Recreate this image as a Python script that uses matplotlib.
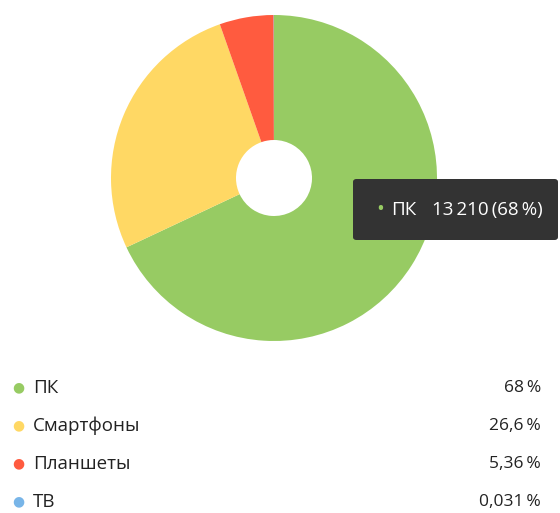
import matplotlib.pyplot as plt
from matplotlib.patches import FancyBboxPatch

labels = ['ПК', 'Смартфоны', 'Планшеты', 'ТВ']
shares = [68.0, 26.6, 5.36, 0.031]
share_labels = ['68\u2009%', '26,6\u2009%', '5,36\u2009%', '0,031\u2009%']
colors = ['#97cb63', '#ffd864', '#ff5b3f', '#78b5e8']
tip_label = 'ПК'
tip_value = '13\u2009210\u2009(68\u2009%)'

plt.rcParams['font.family'] = ['Open Sans', 'DejaVu Sans']

fig = plt.figure(figsize=(5.6, 5.13), dpi=100)

# pie axes: centre ~ (274, 178) px, radius ~163 px
W, H = 560, 513
cx, cy, r = 274, 178, 163
ax = fig.add_axes([(cx - r) / W, (H - cy - r) / H, 2 * r / W, 2 * r / H])
ax.pie(shares, colors=colors, startangle=90, counterclock=False,
       radius=1.0, wedgeprops=dict(width=1 - 38 / 163, linewidth=0))
ax.set_xlim(-1, 1)
ax.set_ylim(-1, 1)
ax.set_aspect('equal')
ax.axis('off')

# tooltip
box = FancyBboxPatch((353 / W, 1 - 240 / H), 205 / W, 61 / H,
                     boxstyle='round,pad=0,rounding_size=0.006',
                     transform=fig.transFigure, facecolor='#333333',
                     edgecolor='none', zorder=5)
fig.patches.append(box)
fig.text(380 / W, 1 - 210 / H, '•', color=colors[0], fontsize=15,
         va='center', ha='center', zorder=6)
fig.text(391 / W, 1 - 210 / H, tip_label, color='white', fontsize=13.5,
         va='center', ha='left', zorder=6)
fig.text(432 / W, 1 - 210 / H, tip_value, color='white', fontsize=13.5,
         va='center', ha='left', zorder=6)

# legend
rows_y = [388, 426, 464, 502]
for lab, val, col, y in zip(labels, share_labels, colors, rows_y):
    fig.text(18 / W, 1 - y / H, '●', color=col, fontsize=10,
             va='center', ha='center')
    fig.text(33 / W, 1 - y / H, lab, color='#222222', fontsize=13.5,
             va='center', ha='left')
    fig.text(541 / W, 1 - y / H, val, color='#222222', fontsize=12.5,
             va='center', ha='right')

fig.savefig('out.png', dpi=100, facecolor='white')
